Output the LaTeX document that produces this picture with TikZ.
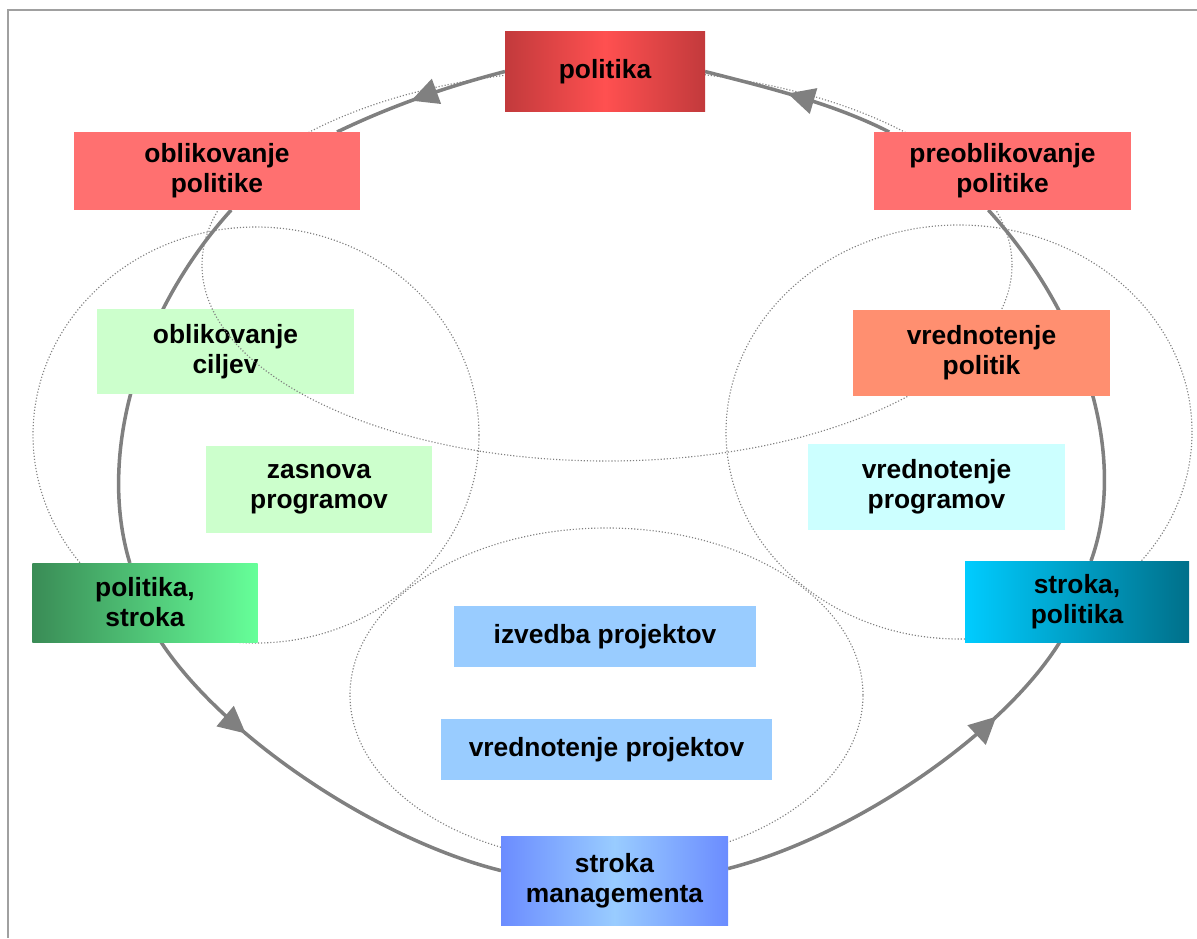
\documentclass[tikz,border=0pt]{standalone}
\usepackage{fontspec}
\setmainfont{Liberation Sans}
\usetikzlibrary{arrows.meta,decorations.markings}

\definecolor{framegray}{HTML}{A0A0A0}
\definecolor{arcgray}{HTML}{808080}
\definecolor{poldark}{HTML}{C23A3C}
\definecolor{polbright}{HTML}{FF5050}
\definecolor{policy}{HTML}{FF7070}
\definecolor{goals}{HTML}{CCFFCC}
\definecolor{evalpol}{HTML}{FF8F70}
\definecolor{evalprog}{HTML}{CCFFFF}
\definecolor{greendark}{HTML}{3A8C56}
\definecolor{greenlight}{HTML}{66FF99}
\definecolor{cyanlight}{HTML}{00CCFF}
\definecolor{tealdark}{HTML}{00708A}
\definecolor{projblue}{HTML}{99CCFF}
\definecolor{manblue}{HTML}{6B8CFF}

\pgfdeclarelayer{back}
\pgfdeclarelayer{middle}
\pgfsetlayers{back,middle,main}

\begin{document}
\begin{tikzpicture}[x=0.2mm, y=-0.2mm,
  box/.style={rectangle, inner sep=0pt, outer sep=0pt, align=center,
    font=\bfseries\fontsize{15pt}{17pt}\selectfont},
  flow/.style={draw=arcgray, line width=2pt},
  midarrow/.style={postaction={decorate}, decoration={markings,
    mark=at position #1 with {\arrow{Triangle[length=5.4mm,width=5.2mm]}}}},
  ring/.style={draw=arcgray, line width=0.65pt, dash pattern=on 0.65pt off 1.1pt}]
  \useasboundingbox (0,0) rectangle (1197,938);
  \draw[framegray, line width=0.45mm] (7.7,938) |- (1197,10);

  \node[box, minimum width=40mm, minimum height=15.8mm, left color=poldark, right color=poldark, middle color=polbright] (politika) at (605,71.5) {politika};
  \node[box, minimum width=57.2mm, minimum height=15.6mm, fill=policy] (oblP) at (217,171) {oblikovanje\\politike};
  \node[box, minimum width=51.4mm, minimum height=15.6mm, fill=policy] (preoblP) at (1002.5,171) {preoblikovanje\\politike};
  \begin{pgfonlayer}{middle}
    \node[box, minimum width=51.4mm, minimum height=17mm, fill=goals] (ciljev) at (225.5,351.5) {oblikovanje\\ciljev};
  \end{pgfonlayer}
  \node[box, minimum width=45.2mm, minimum height=17.4mm, fill=goals] (zasnova) at (319,489.5) {zasnova\\programov};
  \node[box, minimum width=51.4mm, minimum height=17.2mm, fill=evalpol] (vrPolitik) at (981.5,353) {vrednotenje\\politik};
  \node[box, minimum width=51.4mm, minimum height=17.2mm, fill=evalprog] (vrProgramov) at (936.5,487) {vrednotenje\\programov};
  \node[box, minimum width=45mm, minimum height=15.8mm, left color=greendark, right color=greenlight] (polStroka) at (145,602.5) {politika,\\stroka};
  \node[box, minimum width=44.8mm, minimum height=16.2mm, left color=cyanlight, right color=tealdark] (strPolitika) at (1077,601.5) {stroka,\\politika};
  \node[box, minimum width=60.4mm, minimum height=12.2mm, fill=projblue] (izvedba) at (605,636.5) {izvedba projektov};
  \node[box, minimum width=66.2mm, minimum height=12.2mm, fill=projblue] (vrProjektov) at (606.5,749.5) {vrednotenje projektov};
  \node[box, minimum width=45.4mm, minimum height=17.8mm, left color=manblue, right color=manblue, middle color=projblue] (strokaMan) at (614.5,880.5) {stroka\\managementa};

  \begin{pgfonlayer}{back}
    \draw[flow, midarrow=0.55] (politika.west) .. controls +(-58,15) and +(54,-26) .. (oblP.18);
    \draw[flow] (oblP.290) .. controls +(-93,103) and +(-33,-109) .. (polStroka.111);
    \draw[flow, midarrow=0.3] (polStroka.292) .. controls +(62,94) and +(-125,-31) .. (strokaMan.175);
    \draw[flow, midarrow=0.76] (strokaMan.6) .. controls +(125,-32) and +(-57,92) .. (strPolitika.247);
    \draw[flow] (strPolitika.71) .. controls +(37,-102) and +(99,109) .. (preoblP.250);
    \draw[flow, midarrow=0.56] (preoblP.161) .. controls +(-57,-29) and +(62,16) .. (politika.east);
  \end{pgfonlayer}

  \begin{pgfonlayer}{middle}
    \draw[ring] (607,265) ellipse [x radius=81mm, y radius=39.2mm];
    \draw[ring] (256,435) ellipse [x radius=44.6mm, y radius=41.6mm];
    \draw[ring] (959,432) ellipse [x radius=46.6mm, y radius=41.4mm];
    \draw[ring] (606.5,695) ellipse [x radius=51.3mm, y radius=33.4mm];
  \end{pgfonlayer}
\end{tikzpicture}
\end{document}
